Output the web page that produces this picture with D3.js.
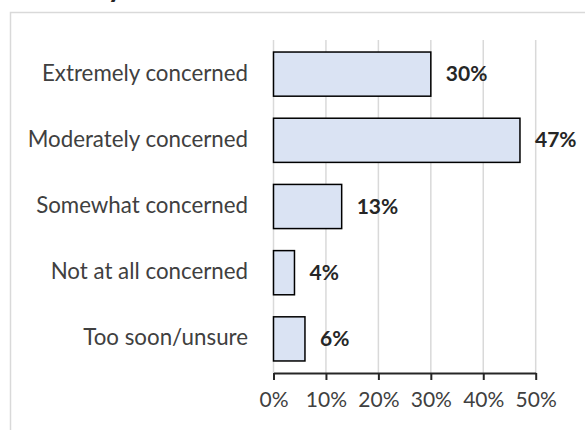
<!DOCTYPE html>
<html>
<head>
<meta charset="utf-8">
<script src="https://cdn.jsdelivr.net/npm/d3@7"></script>
<style>
  html, body { margin: 0; padding: 0; background: #fff; }
  svg { display: block; }
</style>
</head>
<body>
<svg id="chart" width="585" height="430"></svg>
<script>
// Survey responses: level of concern
const categories = [
  "Extremely concerned",
  "Moderately concerned",
  "Somewhat concerned",
  "Not at all concerned",
  "Too soon/unsure"
];
const shares = [0.30, 0.47, 0.13, 0.04, 0.06];
const tickValues = [0, 0.1, 0.2, 0.3, 0.4, 0.5];

const W = 585, H = 430;
const FONT = "Lato, 'Open Sans', sans-serif";
const TEXT = "#404040";

const svg = d3.select("#chart");

// chart frame (runs past the right and bottom edges)
svg.append("rect")
  .attr("x", 10.5).attr("y", 12.5)
  .attr("width", W).attr("height", H)
  .attr("fill", "#fff")
  .attr("stroke", "#d9d9d9").attr("stroke-width", 1.5);

// title sits above the visible area; only its descender shows
svg.append("text")
  .attr("x", 108).attr("y", -3)
  .attr("font-family", "Calibri, Lato, sans-serif")
  .attr("font-weight", "bold")
  .attr("font-size", 30)
  .attr("fill", "#262626")
  .text("y");

const x = d3.scaleLinear().domain([0, 0.5]).range([273.5, 535.7]);
const y = d3.scaleBand().domain(categories).range([41, 372])
  .paddingInner(0.333).paddingOuter(0.1667);

const plotTop = 40, plotBottom = 373;

// vertical gridlines
svg.append("g")
  .selectAll("line")
  .data(tickValues)
  .join("line")
  .attr("x1", d => x(d)).attr("x2", d => x(d))
  .attr("y1", plotTop).attr("y2", plotBottom)
  .attr("stroke", "#d9d9d9").attr("stroke-width", 1.5);

// bars
svg.append("g")
  .selectAll("rect")
  .data(categories)
  .join("rect")
  .attr("x", x(0))
  .attr("y", d => y(d))
  .attr("width", (d, i) => x(shares[i]) - x(0))
  .attr("height", y.bandwidth())
  .attr("fill", "#dae3f3")
  .attr("stroke", "#000")
  .attr("stroke-width", 1.5);

// value labels
svg.append("g")
  .selectAll("text")
  .data(categories)
  .join("text")
  .attr("x", (d, i) => x(shares[i]) + 15)
  .attr("y", d => y(d) + y.bandwidth() / 2 + 7)
  .attr("font-family", FONT)
  .attr("font-weight", "bold")
  .attr("font-size", 21)
  .attr("fill", "#262626")
  .text((d, i) => Math.round(shares[i] * 100) + "%");

// category labels
svg.append("g")
  .selectAll("text")
  .data(categories)
  .join("text")
  .attr("x", 248)
  .attr("y", d => y(d) + y.bandwidth() / 2 + 6.5)
  .attr("text-anchor", "end")
  .attr("font-family", FONT)
  .attr("font-size", 22.3)
  .attr("fill", TEXT)
  .text(d => d);

// horizontal value axis
const axis = svg.append("g")
  .attr("transform", `translate(0,${plotBottom})`)
  .call(d3.axisBottom(x).tickValues(tickValues)
    .tickFormat(d3.format(".0%")).tickSize(7).tickSizeOuter(0));
axis.select(".domain").attr("stroke", "#262626").attr("stroke-width", 2);
axis.selectAll(".tick line").attr("stroke", "#262626").attr("stroke-width", 2);
axis.selectAll(".tick text")
  .attr("y", 34).attr("dy", 0)
  .attr("font-family", FONT)
  .attr("font-size", 21)
  .attr("fill", TEXT);
</script>
</body>
</html>
